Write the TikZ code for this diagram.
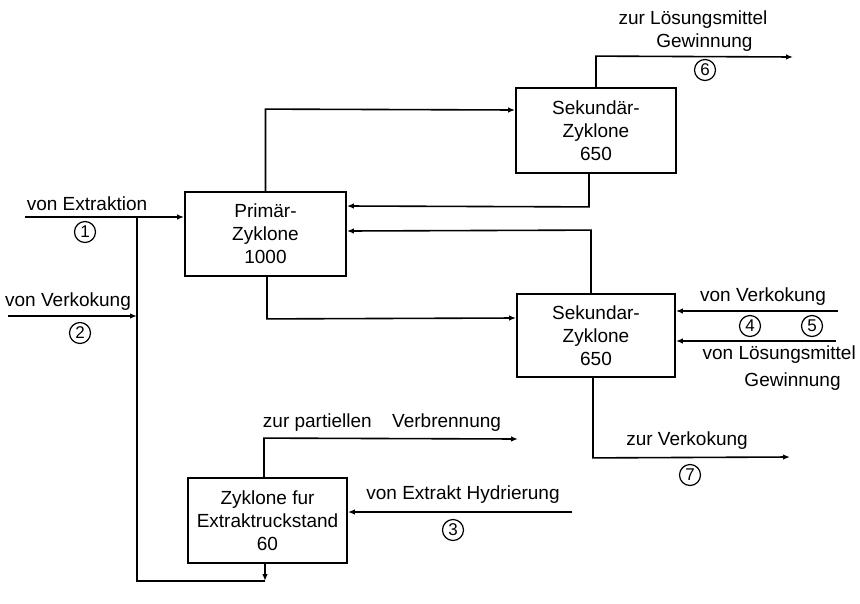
\documentclass[tikz,border=0pt]{standalone}
\usepackage{fontspec}
\setmainfont{Liberation Sans}
\usetikzlibrary{arrows.meta,calc}
\tikzset{
  box/.style={draw, line width=1.8pt, rectangle, inner sep=0pt, align=center, font=\fontsize{19}{23}\selectfont},
  flow/.style={line width=1.6pt},
  arr/.style={flow, -{Latex[length=7pt,width=5.5pt]}},
  lbl/.style={inner sep=0pt, font=\fontsize{19}{23}\selectfont, align=center},
  num/.style={draw, circle, line width=1.2pt, minimum size=21pt, inner sep=0pt, font=\fontsize{17}{17}\selectfont}
}
\begin{document}
\begin{tikzpicture}[x=1pt,y=-1pt]
\useasboundingbox (0,0) rectangle (860,603);
% boxes
\node[box, minimum width=161pt, minimum height=84pt] (prim) at (265.5,234) {Primär-\\Zyklone\\1000};
\node[box, minimum width=160pt, minimum height=85pt] (sek1) at (596,130.5) {Sekundär-\\Zyklone\\650};
\node[box, minimum width=158pt, minimum height=83pt] (sek2) at (596,335.5) {Sekundar-\\Zyklone\\650};
\node[box, minimum width=159pt, minimum height=85pt] (ext) at (267.5,520.5) {Zyklone fur\\Extraktruckstand\\60};
% coordinates
\coordinate (in1) at (25,217);
\coordinate (j1) at (137,217);
\coordinate (in2) at (8,316);
\coordinate (j2) at (137,316);
\coordinate (c1) at (137,581);
\coordinate (c2) at (265,581);
\coordinate (o6) at (793,57);
\coordinate (in4) at (838,311);
\coordinate (in5) at (836,341);
\coordinate (o7) at (790,457);
\coordinate (o8) at (518,439);
\coordinate (in3) at (572,512);
% connectors
\draw[arr] (in1) -- (in1 -| prim.west);
\draw[arr] (in2) -- (j2);
\draw[arr] (ext.south -| c2) -- (c2);
\draw[flow] (c2) -- (c1) -- (j1);
\draw[arr] (prim.north) -- ++(0,-82) -- (sek1.west |- 0,110);
\draw[arr] ([xshift=-7pt]sek1.south) -- ++(0,33) -- (prim.east |- 0,206);
\draw[arr] (sek1.north) -- ++(0,-31) -- (o6);
\draw[arr] ([xshift=-5pt]sek2.north) -- ++(0,-63) -- (prim.east |- 0,231);
\draw[arr] ([xshift=1.5pt]prim.south) -- ++(0,42) -- (sek2.west |- 0,318);
\draw[arr] (in4) -- (sek2.east |- in4);
\draw[arr] (in5) -- (sek2.east |- in5);
\draw[arr] ([xshift=-3pt]sek2.south) -- ++(0,80) -- (o7);
\draw[arr] ([xshift=-3.5pt]ext.north) -- ++(0,-39) -- (o8);
\draw[arr] (in3) -- (ext.east |- in3);
% labels
\node[lbl] (l1) at (87,204) {von Extraktion};
\node[num] (n1) at (85,232) {1};
\node[lbl] (l2) at (68,302) {von Verkokung};
\node[num] (n2) at (80,333) {2};
\node[lbl] (l6) at (693,31) {zur Lösungsmittel\\\hspace*{1.2em}Gewinnung};
\node[num] (n6) at (705,70) {6};
\node[lbl] (l4) at (763,297) {von Verkokung};
\node[num] (n4) at (750,326) {4};
\node[num] (n5) at (812,326) {5};
\node[lbl, anchor=north east, align=right] (l5) at (856,346) {von Lösungsmittel\\[4pt]Gewinnung\hspace*{0.8em}};
\node[lbl] (l7) at (687,441) {zur Verkokung};
\node[num] (n7) at (690,475) {7};
\node[lbl] (l8) at (382,423) {zur partiellen\hspace{0.8em} Verbrennung};
\node[lbl] (l3) at (463,495) {von Extrakt Hydrierung};
\node[num] (n3) at (453,530) {3};
\end{tikzpicture}
\end{document}
